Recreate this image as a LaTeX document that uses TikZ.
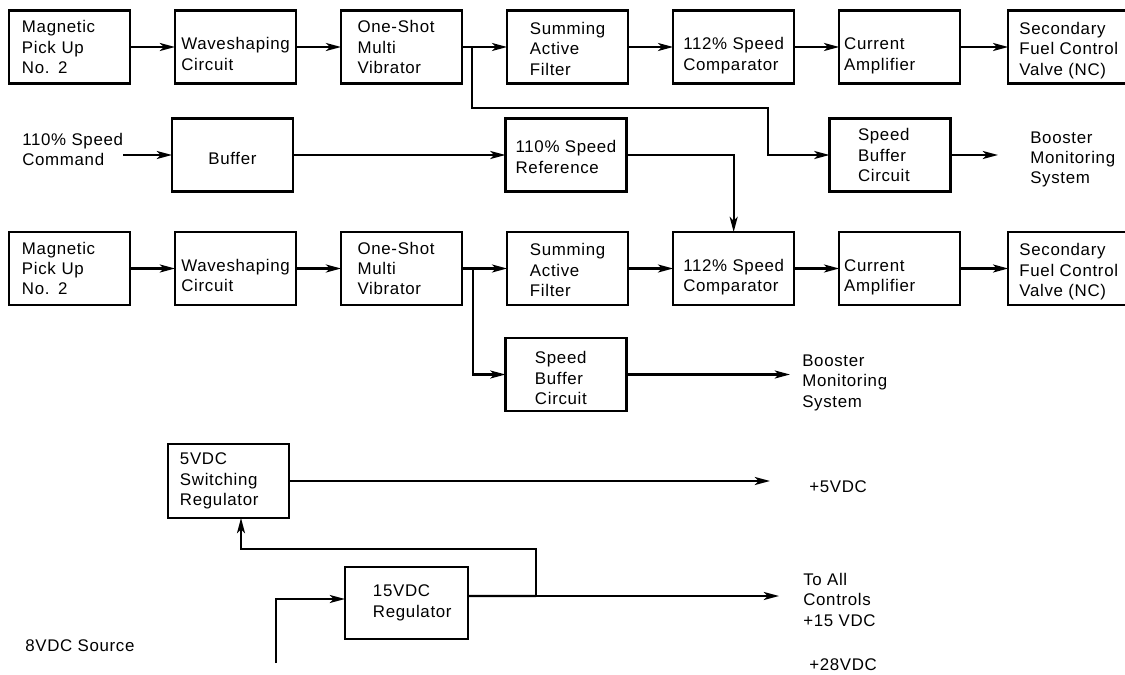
\documentclass[tikz,border=0pt]{standalone}
\usepackage{fontspec}
\setmainfont{Liberation Sans}[LetterSpace=4]
\usetikzlibrary{arrows.meta,positioning}

\begin{document}
\begin{tikzpicture}[
    x=0.025cm, y=-0.025cm,
    node distance=1.125cm,
    every node/.style={font=\fontsize{12}{14.5}\selectfont},
    block/.style={draw, line width=1.6pt, align=left, minimum width=3.025cm, minimum height=1.825cm, inner sep=0pt, outer sep=0pt},
    oneline/.style={text height=0.45cm, text depth=0pt},
    twoline/.style={text height=1.15cm, text depth=0pt},
    threeline/.style={text height=1.4cm, text depth=0pt},
    note/.style={align=left, anchor=base west, inner sep=0pt},
    wire/.style={line width=1.6pt},
    arrow/.style={-{Stealth[length=3.8mm, width=2mm, inset=1mm]}, line width=1.6pt}
  ]
    \useasboundingbox (0,0) rectangle (1125,675);

    % first speed channel
    \node[block, text width=2.375cm] (pick1) at (69.5,47) {Magnetic\\Pick Up\\No. 2};
    \node[block, twoline, right=of pick1] (wave1) {Waveshaping\\Circuit};
    \node[block, right=of wave1, text width=2.2cm] (shot1) {One-Shot\\Multi\\Vibrator};
    \node[block, threeline, right=of shot1] (filt1) {Summing\\Active\\Filter};
    \node[block, twoline, right=of filt1] (comp1) {112\% Speed\\Comparator};
    \node[block, right=of comp1, text width=2.775cm, text height=0.75cm, text depth=0.6cm] (amp1) {Current\\Amplifier};
    \node[block, threeline, right=of amp1, xshift=0.075cm] (valve1) {Secondary\\Fuel Control\\Valve (NC)};

    % speed command and monitoring
    \node[note] (cmd) at (22,166) {110\% Speed\\Command};
    \node[block, oneline] (buf) at (232.5,155) {Buffer};
    \node[block, text height=0.9cm, text depth=0pt] (ref) at (566,155) {110\% Speed\\Reference};
    \node[block, text width=1.6cm] (sbuf1) at (890,155) {Speed\\Buffer\\Circuit};
    \node[note] (mon1) at (1030,184) {Booster\\Monitoring\\System};

    % second speed channel
    \node[block, text width=2.375cm] (pick2) at (69.5,268.5) {Magnetic\\Pick Up\\No. 2};
    \node[block, twoline, right=of pick2] (wave2) {Waveshaping\\Circuit};
    \node[block, right=of wave2, text width=2.2cm] (shot2) {One-Shot\\Multi\\Vibrator};
    \node[block, threeline, right=of shot2] (filt2) {Summing\\Active\\Filter};
    \node[block, twoline, right=of filt2] (comp2) {112\% Speed\\Comparator};
    \node[block, right=of comp2, text width=2.775cm, text height=0.75cm, text depth=0.6cm] (amp2) {Current\\Amplifier};
    \node[block, threeline, right=of amp2, xshift=0.075cm] (valve2) {Secondary\\Fuel Control\\Valve (NC)};
    \node[block, text width=1.55cm, text height=0.3cm, text depth=0.825cm] (sbuf2) at (566,374.5) {Speed\\Buffer\\Circuit};
    \node[note] (mon2) at (802,407) {Booster\\Monitoring\\System};

    % power supplies
    \node[block, text width=2.425cm, minimum height=1.85cm] (sw) at (228.5,481) {5VDC\\Switching\\Regulator};
    \node[block, text width=1.675cm, minimum width=3.075cm, minimum height=1.8cm] (reg) at (406.5,603) {15VDC\\Regulator};
    \node[note] (plus5) at (809,492) {+5VDC};
    \node[note] (all) at (803,626) {To All\\Controls\\+15 VDC};
    \node[note] (src) at (25,651) {8VDC Source};
    \node[note] (plus28) at (809,670) {+28VDC};

    \coordinate (out1) at (998,155);
    \coordinate (out2) at (790,374.5);
    \coordinate (out5) at (770,481);
    \coordinate (out15) at (779,596);
    \coordinate (tap) at (536,596);
    \coordinate (src8) at (276,663);

    \draw[arrow] (pick1) -- (wave1);
    \draw[arrow] (wave1) -- (shot1);
    \draw[arrow] (shot1) -- (filt1);
    \draw[arrow] (filt1) -- (comp1);
    \draw[arrow] (comp1) -- (amp1);
    \draw[arrow] (amp1) -- (valve1);
    \draw[arrow] ([xshift=0.25cm]shot1.east) |- (768,108) |- (sbuf1.west);
    \draw[arrow] (sbuf1) -- (out1);

    \draw[arrow] (cmd.east |- buf.west) -- (buf.west);
    \draw[arrow] (buf) -- (ref);
    \draw[arrow] (ref.east) -| (comp2.north);

    \draw[arrow] (pick2) -- (wave2);
    \draw[arrow] (wave2) -- (shot2);
    \draw[arrow] (shot2) -- (filt2);
    \draw[arrow] (filt2) -- (comp2);
    \draw[arrow] (comp2) -- (amp2);
    \draw[arrow] (amp2) -- (valve2);
    \draw[arrow] ([xshift=0.275cm]shot2.east) |- (sbuf2.west);
    \draw[arrow] (sbuf2) -- (out2);

    \draw[arrow] (sw) -- (out5);
    \draw[wire] ([yshift=0.175cm]reg.east) -- (tap);
    \draw[arrow] (tap) -- (out15);
    \draw[arrow] (tap) -- ++(0,-47) -| ([xshift=0.3125cm]sw.south);
    \draw[arrow] (src8) |- ([yshift=0.1cm]reg.west);
  \end{tikzpicture}
\end{document}
